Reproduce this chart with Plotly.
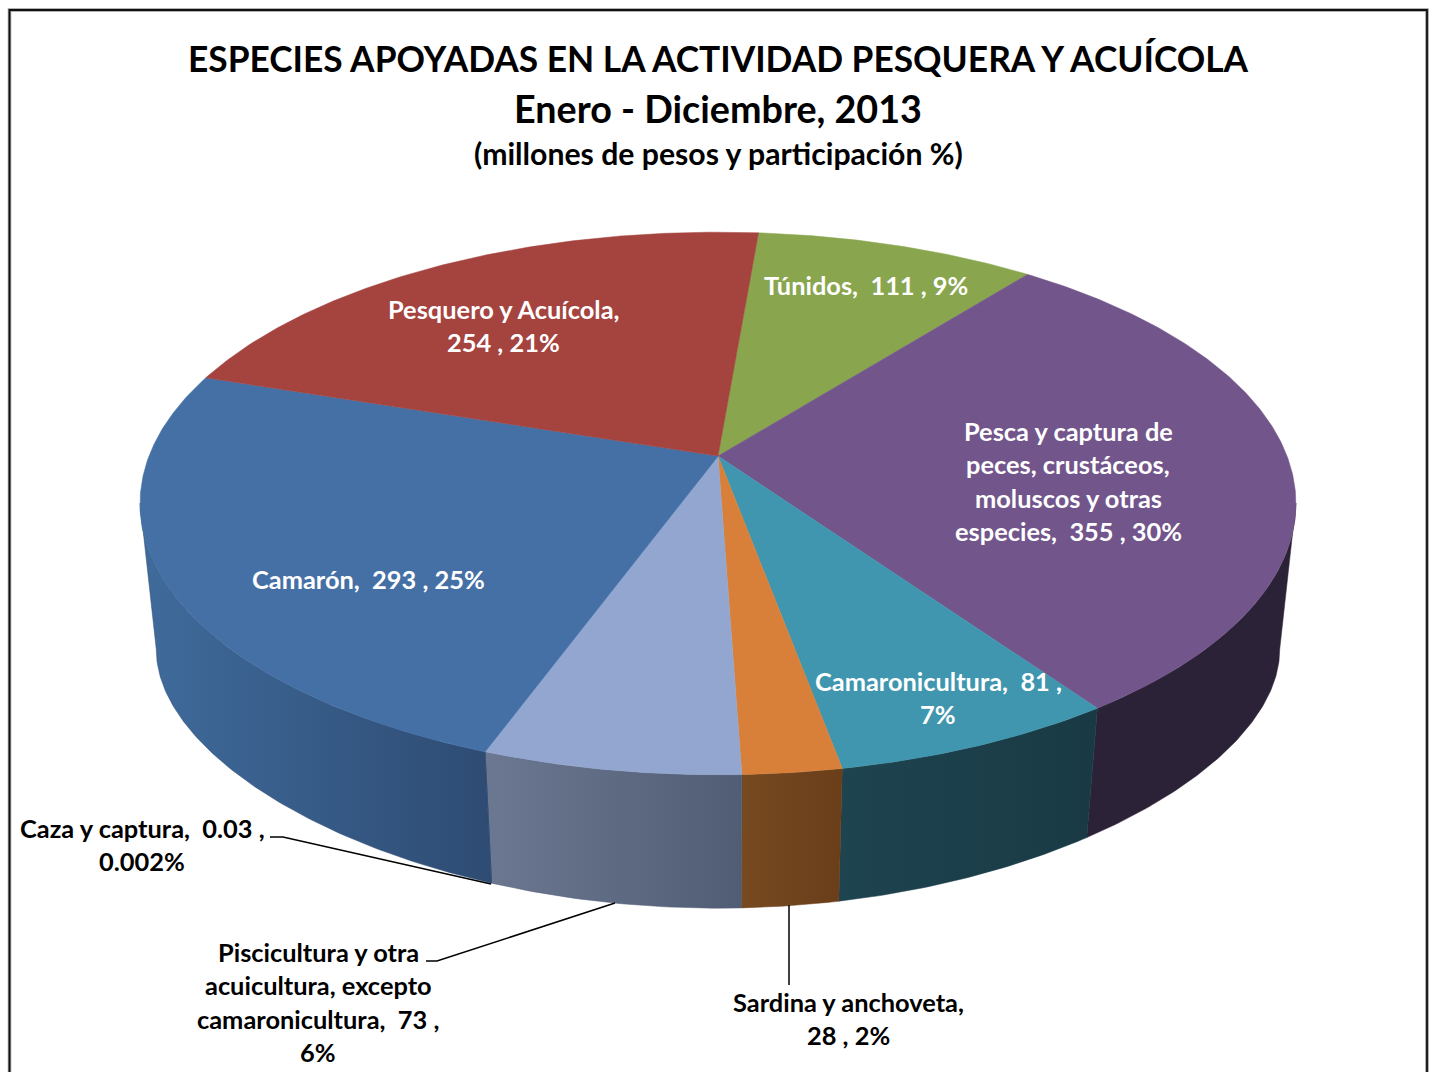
import math
import plotly.graph_objects as go

# --- data ---
categories = ["Túnidos", "Pesca y captura de peces, crustáceos, moluscos y otras especies",
              "Camaronicultura", "Sardina y anchoveta",
              "Piscicultura y otra acuicultura, excepto camaronicultura",
              "Caza y captura", "Camarón", "Pesquero y Acuícola"]
values = [111, 355, 81, 28, 73, 0.03, 293, 254]
top_colors = ["#89A54E", "#72558B", "#4096AE", "#D8803A", "#93A6CF", "#4A7EBB", "#4570A6", "#A5433F"]
side_colors = [("#4F612B", "#4F612B"), ("#2C2237", "#2C2237"), ("#1E4450", "#193A44"), ("#774A21", "#693E19"),
               ("#6C7891", "#515D74"), ("#2F4C74", "#2F4C74"), ("#3F6B9B", "#2E4B73"), ("#5F2523", "#5F2523")]
title_lines = [("ESPECIES APOYADAS EN LA ACTIVIDAD PESQUERA Y ACUÍCOLA", 58, 35.3),
               ("Enero - Diciembre, 2013", 108, 37.7),
               ("(millones de pesos y participación %)", 153, 30.2)]
white_labels = [(["Túnidos,\u00a0 111 , 9%"], 866, 285),
                (["Pesquero y Acuícola,", "254 , 21%"], 503, 309),
                (["Pesca y captura de", "peces, crustáceos,", "moluscos y otras", "especies,\u00a0 355 , 30%"], 1068, 431),
                (["Camarón,\u00a0 293 , 25%"], 368, 579),
                (["Camaronicultura,\u00a0 81 ,", "7%"], 938, 681)]
black_labels = [(["Caza y captura,\u00a0 0.03 ,", "0.002%"], 142, 828),
                (["Piscicultura y otra", "acuicultura, excepto", "camaronicultura,\u00a0 73 ,", "6%"], 318, 952),
                (["Sardina y anchoveta,", "28 , 2%"], 848, 1002)]
leaders = [([270, 283, 491], [837, 837, 884]),
           ([426, 437, 615], [961, 961, 903]),
           ([789, 789], [905, 985])]

# --- projection of the tilted disc, in page pixels ---
CX, CY_TOP, CY_BOT = 718, 456, 611
A, B, K = 569, 263, 0.175
BOT_XSCALE, BOT_B, BOT_K = 0.972, 208, 0.30
START = 4.8
SIDE_FROM, SIDE_TO = 100.0, 260.0


def top(t):
    r = math.radians(t)
    d = 1 + K * math.cos(r)
    return CX + A * math.sin(r) / d, CY_TOP - B * math.cos(r) / d


def bottom(t):
    r = math.radians(t)
    c = math.cos(r)
    return CX + BOT_XSCALE * A * math.sin(r) / (1 + K * c), CY_BOT - BOT_B * c / (1 + BOT_K * c)


def grid(a, b):
    n = max(2, int(abs(b - a) * 2) + 2)
    return [a + (b - a) * i / (n - 1) for i in range(n)]


fig = go.Figure()
total = sum(values)
angle = START
for name, v, tc, sc in zip(categories, values, top_colors, side_colors):
    a1, a2 = angle, angle + v / total * 360
    angle = a2
    s1, s2 = max(a1, SIDE_FROM), min(a2, SIDE_TO)
    if s2 > s1:
        ts = grid(s1, s2)
        pts = [top(t) for t in ts] + [bottom(t) for t in reversed(ts)]
        xs = [p[0] for p in pts] + [pts[0][0]]
        ys = [p[1] for p in pts] + [pts[0][1]]
        fig.add_trace(go.Scatter(x=xs, y=ys, mode="lines", fill="toself", line=dict(width=0.5, color=sc[1]),
                                 fillgradient=dict(type="horizontal", colorscale=[[0, sc[0]], [1, sc[1]]]),
                                 hoverinfo="skip", showlegend=False))
angle = START
for name, v, tc in zip(categories, values, top_colors):
    a1, a2 = angle, angle + v / total * 360
    angle = a2
    pts = [(CX, CY_TOP)] + [top(t) for t in grid(a1, a2)] + [(CX, CY_TOP)]
    fig.add_trace(go.Scatter(x=[p[0] for p in pts], y=[p[1] for p in pts], mode="lines", fill="toself",
                             fillcolor=tc, line=dict(width=0.5, color=tc), name=name,
                             text=f"{name}: {v}", hoverinfo="text", showlegend=False))
for lx, ly in leaders:
    fig.add_trace(go.Scatter(x=lx, y=ly, mode="lines", line=dict(color="#000000", width=1.5),
                             hoverinfo="skip", showlegend=False))

FONT = "Lato, Carlito, Calibri, sans-serif"
LABEL = 25.4
LEAD = 33.3


def put(text, x, y, size, color):
    fig.add_annotation(x=x, y=y, text=f"<b>{text}</b>", showarrow=False, xanchor="center", yanchor="middle",
                       font=dict(family=FONT, size=size, color=color))


for t, y, s in title_lines:
    put(t, 718, y, s, "#000000")
for group, color in ((white_labels, "#FFFFFF"), (black_labels, "#000000")):
    for lines, x, y in group:
        for i, t in enumerate(lines):
            put(t, x, y + i * LEAD, LABEL, color)

# chart frame (runs off the bottom of the page)
frame = dict(type="rect", x0=9.5, x1=1427, y0=10, y1=1100)
fig.add_shape(**frame, line=dict(color="#9A9A9A", width=3.5), layer="below")
fig.add_shape(**frame, line=dict(color="#111111", width=1.8), layer="below")

fig.update_layout(width=1431, height=1072, margin=dict(l=0, r=0, t=0, b=0),
                  paper_bgcolor="#FFFFFF", plot_bgcolor="#FFFFFF", showlegend=False,
                  xaxis=dict(range=[0, 1431], visible=False, fixedrange=True),
                  yaxis=dict(range=[1072, 0], visible=False, fixedrange=True))
fig.write_html("out.html", config=dict(displayModeBar=False),
               post_script="document.body.style.margin='0';document.documentElement.style.overflow='hidden';")
